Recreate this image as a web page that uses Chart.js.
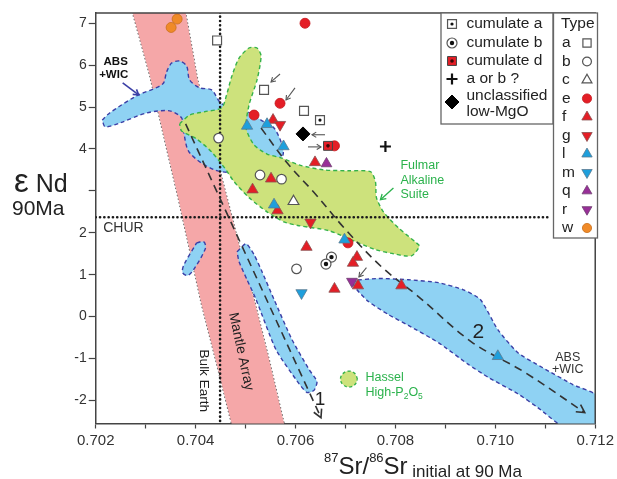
<!DOCTYPE html>
<html>
<head>
<meta charset="utf-8">
<script src="https://cdn.jsdelivr.net/npm/chart.js"></script>
<style>
  html, body { margin: 0; padding: 0; background: #fff; }
  #wrap { width: 617px; height: 479px; }
</style>
</head>
<body>
<div id="wrap"><canvas id="chart" width="617" height="479"></canvas></div>
<script>
// ---------- axes ----------
const xTickValues = [0.702, 0.703, 0.704, 0.705, 0.706, 0.707, 0.708, 0.709, 0.710, 0.711, 0.712];
const xTickLabels = ['0.702', '', '0.704', '', '0.706', '', '0.708', '', '0.710', '', '0.712'];
const yTickValues = [-2, -1, 0, 1, 2, 3, 4, 5, 6, 7];
const yTickLabels = ['-2', '-1', '0', '1', '2', '', '4', '5', '6', '7'];

// ---------- samples by type: [87Sr/86Sr(90 Ma), eNd(90 Ma)] ----------
const typeA = [[0.70443, 6.59], [0.70537, 5.41], [0.70617, 4.91]];
const typeB = [[0.70446, 4.26], [0.70529, 3.38], [0.70572, 3.28], [0.70602, 1.14]];
const typeC = [[0.70596, 2.75]];
const typeE = [[0.70619, 7.0], [0.70569, 5.09], [0.70517, 4.81], [0.70678, 4.075], [0.70705, 1.76]];
const typeF = [[0.70555, 4.69], [0.70639, 3.68], [0.70551, 3.29], [0.70514, 3.03], [0.70564, 2.53],
               [0.70622, 1.66], [0.70723, 1.42], [0.70715, 1.28], [0.70678, 0.66], [0.70725, 0.74], [0.70812, 0.74]];
const typeG = [[0.70569, 4.58], [0.70630, 2.25]];
const typeL = [[0.70503, 4.55], [0.70543, 4.59], [0.70576, 4.06], [0.70557, 2.67], [0.70698, 1.835], [0.71005, -0.946]];
const typeM = [[0.70612, 0.565]];
const typeQ = [[0.70662, 3.65]];
const typeR = [[0.70713, 0.84]];
const typeW = [[0.70351, 6.9], [0.70363, 7.1]];
const cumulateA = [[0.70649, 4.69]];
const cumulateB = [[0.70672, 1.42], [0.70661, 1.255]];
const cumulateD = [[0.70665, 4.075]];
const typeAorB = [[0.70780, 4.06]];
const lowMgO = [[0.70615, 4.36]];

// ---------- reference fields (outlines) ----------
const mantleArray = [[0.70265, 7.6], [0.70274, 7.25], [0.70308, 5.77], [0.70338, 4.22], [0.70366, 2.79], [0.70388, 1.60],
  [0.70412, 0.29], [0.70440, -1.02], [0.70472, -2.55], [0.70479, -2.9], [0.70584, -2.9], [0.70577, -2.55],
  [0.70547, -1.02], [0.70517, 0.41], [0.70497, 1.24], [0.70472, 2.41], [0.70438, 3.98], [0.70404, 5.65],
  [0.70380, 7.25], [0.70374, 7.6], [0.70265, 7.6]];
const absWicUpper = [[0.70213, 4.69], [0.70228, 4.86], [0.70282, 5.27], [0.70334, 5.55], [0.70342, 5.84], [0.70352, 6.05],
  [0.70368, 6.10], [0.70382, 5.98], [0.70388, 5.65], [0.70408, 5.46], [0.70432, 5.41], [0.70452, 5.08], [0.70497, 4.93],
  [0.70531, 4.69], [0.70557, 4.50], [0.70573, 4.10], [0.70575, 3.86], [0.70563, 3.74], [0.70487, 3.46], [0.70438, 3.50],
  [0.70388, 3.91], [0.70376, 4.41], [0.70372, 4.74], [0.70348, 4.91], [0.70302, 4.86], [0.70248, 4.62], [0.70219, 4.53],
  [0.70213, 4.69]];
const absWicSliver = [[0.70402, 1.76], [0.70416, 1.79], [0.70420, 1.64], [0.70396, 1.12], [0.70384, 0.98], [0.70374, 1.05],
  [0.70376, 1.22], [0.70402, 1.76]];
const absWicTrend1 = [[0.70483, 1.55], [0.70501, 1.74], [0.70517, 1.48], [0.70533, 1.07], [0.70557, 0.41], [0.70593, -0.55],
  [0.70627, -1.26], [0.70643, -1.55], [0.70637, -1.76], [0.70623, -1.81], [0.70607, -1.60], [0.70561, -0.79],
  [0.70521, 0.41], [0.70503, 0.88], [0.70487, 1.31], [0.70483, 1.55]];
const absWicTrend2 = [[0.70711, 0.86], [0.70766, 0.91], [0.70826, 0.88], [0.70886, 0.81], [0.70936, 0.64], [0.70970, 0.41],
  [0.71005, -0.31], [0.71045, -0.86], [0.71095, -1.22], [0.71155, -1.62], [0.71210, -1.93], [0.71210, -2.7],
  [0.71145, -2.7], [0.71085, -2.17], [0.71045, -1.84], [0.70986, -1.45], [0.70946, -1.14], [0.70886, -0.62],
  [0.70826, -0.21], [0.70786, 0.05], [0.70746, 0.36], [0.70723, 0.64], [0.70711, 0.86]];
const fulmarSuite = [[0.70368, 4.60], [0.70388, 4.81], [0.70418, 4.89], [0.70452, 4.98], [0.70462, 5.29], [0.70472, 5.72],
  [0.70487, 6.17], [0.70507, 6.41], [0.70523, 6.41], [0.70531, 6.22], [0.70523, 5.65], [0.70507, 5.05], [0.70501, 4.50],
  [0.70517, 4.10], [0.70543, 3.88], [0.70571, 3.79], [0.70607, 3.62], [0.70657, 3.50], [0.70707, 3.48], [0.70750, 3.46],
  [0.70760, 3.22], [0.70762, 2.84], [0.70776, 2.50], [0.70806, 2.12], [0.70842, 1.76], [0.70848, 1.68], [0.70832, 1.45],
  [0.70796, 1.50], [0.70760, 1.60], [0.70726, 1.76], [0.70667, 2.05], [0.70607, 2.17], [0.70577, 2.26], [0.70543, 2.50],
  [0.70507, 2.84], [0.70477, 3.22], [0.70458, 3.55], [0.70432, 3.93], [0.70402, 4.24], [0.70372, 4.43], [0.70368, 4.60]];
const hasselHighP = [[0.70724, -1.49], [0.70719, -1.36], [0.70707, -1.30], [0.70695, -1.36], [0.70690, -1.49],
  [0.70695, -1.62], [0.70707, -1.68], [0.70719, -1.62], [0.70724, -1.49]];

// ---------- reference lines and trends ----------
const bulkEarth = [[0.70449, -2.9], [0.70449, 7.6]];
const chur = [[0.7020, 2.37], [0.7111, 2.37]];
const trend1 = [[0.70380, 4.60], [0.70651, -2.41]];
const trend2 = [[0.70531, 4.50], [0.70583, 3.67], [0.70641, 2.91], [0.70697, 2.12], [0.70772, 1.19], [0.70846, 0.48],
  [0.70952, -0.60], [0.71059, -1.33], [0.71179, -2.29]];

// pointer arrows: [tailX, tailY, headX, headY]
const pointerArrows = [[0.70569, 5.79, 0.70551, 5.60], [0.70599, 5.46, 0.70581, 5.17], [0.70659, 4.34, 0.70633, 4.34],
  [0.70625, 4.05, 0.70651, 4.05], [0.70742, 1.17, 0.70727, 0.95]];
const fulmarArrow = [0.70796, 3.07, 0.70770, 2.79];
const absArrow = [0.70254, 5.58, 0.70286, 5.29];

// legend texts
const cumulateLabels = ['cumulate a', 'cumulate b', 'cumulate d', 'a or b ?', 'unclassified', 'low-MgO'];
const typeLetters = ['a', 'b', 'c', 'e', 'f', 'g', 'l', 'm', 'q', 'r', 'w'];

// ---------- styles ----------
const FONT = '"Liberation Sans", Arial, Helvetica, sans-serif';
const RED = '#e41e26', BLUE = '#1e9fdc', PURPLE = '#982f98', ORANGE = '#f08a28';
const PINK = '#f5a7a8', SKY = '#8fd2f3', LIME = '#cde27c';
const EDGE_BLUE = '#3b3fa6', EDGE_GREEN = '#35b24a', GREEN_TEXT = '#2bb24c';

const markStyles = {
  a: { ps: 'rect', r: 6.3, bg: '#fff', border: '#555', bw: 1.2 },
  b: { ps: 'circle', r: 4.8, bg: '#fff', border: '#555', bw: 1.2 },
  c: { ps: 'triangle', r: 6.2, bg: '#fff', border: '#555', bw: 1.2 },
  e: { ps: 'circle', r: 5, bg: RED, border: '#c4161c', bw: 0.8 },
  f: { ps: 'triangle', r: 6.5, bg: RED, border: '#8a5050', bw: 0.8 },
  g: { ps: 'triangle', r: 6.5, rot: 180, bg: RED, border: '#8a5050', bw: 0.8 },
  l: { ps: 'triangle', r: 6.5, bg: BLUE, border: '#5a7a90', bw: 0.8 },
  m: { ps: 'triangle', r: 6.5, rot: 180, bg: BLUE, border: '#5a7a90', bw: 0.8 },
  q: { ps: 'triangle', r: 6.2, bg: PURPLE, border: '#704070', bw: 0.8 },
  r: { ps: 'triangle', r: 6.2, rot: 180, bg: PURPLE, border: '#704070', bw: 0.8 },
  w: { ps: 'circle', r: 5, bg: ORANGE, border: '#c9701c', bw: 0.8 },
  cumA: { ps: 'rect', r: 6.3, bg: '#fff', border: '#555', bw: 1.2, dot: '#111', dotR: 1.6 },
  cumB: { ps: 'circle', r: 5, bg: '#fff', border: '#555', bw: 1.2, dot: '#111', dotR: 2.2 },
  cumD: { ps: 'rect', r: 6.3, bg: RED, border: '#444', bw: 1, dot: '#3a0808', dotR: 1.8 },
  aOrB: { ps: 'cross', r: 5.5, bg: '#111', border: '#111', bw: 2.2 },
  lowMgO: { ps: 'rectRot', r: 7, bg: '#000', border: '#000', bw: 1 }
};

const pts = arr => arr.map(([x, y]) => ({ x, y }));

function field(data, fill, edge, dash, order, tension) {
  return { data: pts(data), showLine: true, fill: 'shape', backgroundColor: fill, borderColor: edge,
           borderWidth: 1.4, borderDash: dash, pointRadius: 0, tension, order };
}
function guide(data, color, dash, width, order, tension, cap) {
  return { data: pts(data), showLine: true, fill: false, borderColor: color, borderWidth: width,
           borderDash: dash, borderCapStyle: cap || 'butt', pointRadius: 0, tension, order };
}
function marks(data, st, order) {
  const sets = [{ data: pts(data), showLine: false, pointStyle: st.ps, pointRadius: st.r, pointRotation: st.rot || 0,
           pointBackgroundColor: st.bg, pointBorderColor: st.border, pointBorderWidth: st.bw, order }];
  if (st.dot) {
    sets.push({ data: pts(data), showLine: false, pointStyle: 'circle', pointRadius: st.dotR,
                pointBackgroundColor: st.dot, pointBorderWidth: 0, order: order - 0.5 });
  }
  return sets;
}

const datasets = [
  guide(mantleArray, '#666', [0.1, 3.6], 1.8, 101, 0, 'round'),
  field(mantleArray, PINK, 'rgba(0,0,0,0)', [], 100, 0),
  field(absWicUpper, SKY, EDGE_BLUE, [4, 3], 90, 0.3),
  field(absWicSliver, SKY, EDGE_BLUE, [4, 3], 89, 0.3),
  field(absWicTrend1, SKY, EDGE_BLUE, [4, 3], 88, 0.2),
  field(absWicTrend2, SKY, EDGE_BLUE, [4, 3], 87, 0.2),
  field(fulmarSuite, LIME, EDGE_GREEN, [4, 3], 80, 0.25),
  field(hasselHighP, LIME, EDGE_GREEN, [3, 2.5], 79, 0.4),
  guide(bulkEarth, '#1a1a1a', [0.1, 4.2], 2.6, 70, 0, 'round'),
  guide(chur, '#1a1a1a', [0.1, 4.2], 2.6, 69, 0, 'round'),
  guide(trend1, '#333', [8, 5.5], 1.6, 60, 0),
  guide(trend2, '#333', [8, 5.5], 1.6, 59, 0.35),
  ...marks(typeW, markStyles.w, 40),
  ...marks(typeA, markStyles.a, 39),
  ...marks(typeB, markStyles.b, 38),
  ...marks(typeC, markStyles.c, 37),
  ...marks(typeE, markStyles.e, 36),
  ...marks(typeF, markStyles.f, 35),
  ...marks(typeG, markStyles.g, 34),
  ...marks(typeL, markStyles.l, 33),
  ...marks(typeM, markStyles.m, 32),
  ...marks(typeQ, markStyles.q, 31),
  ...marks(typeR, markStyles.r, 30),
  ...marks(cumulateA, markStyles.cumA, 28),
  ...marks(cumulateB, markStyles.cumB, 26),
  ...marks(cumulateD, markStyles.cumD, 24),
  ...marks(typeAorB, markStyles.aOrB, 22),
  ...marks(lowMgO, markStyles.lowMgO, 20)
];

// ---------- canvas helpers ----------
function drawSym(ctx, st, x, y) {
  const r = st.r;
  ctx.save();
  ctx.translate(x, y);
  ctx.rotate((st.rot || 0) * Math.PI / 180);
  ctx.beginPath();
  if (st.ps === 'circle') ctx.arc(0, 0, r, 0, 2 * Math.PI);
  else if (st.ps === 'rect') { const s = r * Math.SQRT1_2; ctx.rect(-s, -s, 2 * s, 2 * s); }
  else if (st.ps === 'rectRot') { ctx.moveTo(-r, 0); ctx.lineTo(0, -r); ctx.lineTo(r, 0); ctx.lineTo(0, r); ctx.closePath(); }
  else if (st.ps === 'triangle') {
    for (let k = 0; k < 3; k++) {
      const a = k * 2 * Math.PI / 3;
      const px = Math.sin(a) * r, py = -Math.cos(a) * r;
      if (k) ctx.lineTo(px, py); else ctx.moveTo(px, py);
    }
    ctx.closePath();
  } else if (st.ps === 'cross') { ctx.moveTo(0, -r); ctx.lineTo(0, r); ctx.moveTo(-r, 0); ctx.lineTo(r, 0); }
  ctx.fillStyle = st.bg; ctx.strokeStyle = st.border; ctx.lineWidth = st.bw;
  if (st.ps !== 'cross') ctx.fill();
  if (st.bw > 0) ctx.stroke();
  if (st.dot) { ctx.beginPath(); ctx.arc(0, 0, st.dotR, 0, 2 * Math.PI); ctx.fillStyle = st.dot; ctx.fill(); }
  ctx.restore();
}

function arrowHead(ctx, x0, y0, x1, y1, len, spread) {
  const ang = Math.atan2(y1 - y0, x1 - x0);
  ctx.beginPath();
  ctx.moveTo(x1 - len * Math.cos(ang - spread), y1 - len * Math.sin(ang - spread));
  ctx.lineTo(x1, y1);
  ctx.lineTo(x1 - len * Math.cos(ang + spread), y1 - len * Math.sin(ang + spread));
  ctx.stroke();
}

function text(ctx, s, x, y, size, color, align, weight) {
  ctx.font = (weight || 'normal') + ' ' + size + 'px ' + FONT;
  ctx.fillStyle = color;
  ctx.textAlign = align || 'left';
  ctx.textBaseline = 'middle';
  ctx.fillText(s, x, y);
}

// runs of text with raised / lowered parts, left to right
function runs(ctx, x, parts) {
  ctx.textAlign = 'left';
  ctx.textBaseline = 'alphabetic';
  for (const [s, size, base, color] of parts) {
    ctx.font = size + 'px ' + FONT;
    ctx.fillStyle = color;
    ctx.fillText(s, x, base);
    x += ctx.measureText(s).width;
  }
  return x;
}

const overlay = {
  id: 'overlay',
  afterDraw(chart) {
    const { ctx, chartArea: a, scales: { x, y } } = chart;
    const px = v => x.getPixelForValue(v), py = v => y.getPixelForValue(v);
    ctx.save();

    // frame: top and right sides
    ctx.strokeStyle = '#444'; ctx.lineWidth = 1.5;
    ctx.beginPath(); ctx.moveTo(a.left, a.top); ctx.lineTo(a.right, a.top); ctx.lineTo(a.right, a.bottom); ctx.stroke();

    // heads of the two trend arrows
    ctx.strokeStyle = '#333'; ctx.lineWidth = 1.6;
    for (const tr of [trend1, trend2]) {
      const p0 = tr[tr.length - 2], p1 = tr[tr.length - 1];
      arrowHead(ctx, px(p0[0]), py(p0[1]), px(p1[0]), py(p1[1]), 9, 0.5);
    }

    // small pointer arrows
    const drawArrow = (ar, color, width, len) => {
      ctx.strokeStyle = color; ctx.lineWidth = width;
      const x0 = px(ar[0]), y0 = py(ar[1]), x1 = px(ar[2]), y1 = py(ar[3]);
      ctx.beginPath(); ctx.moveTo(x0, y0); ctx.lineTo(x1, y1); ctx.stroke();
      arrowHead(ctx, x0, y0, x1, y1, len, 0.55);
    };
    pointerArrows.forEach(ar => drawArrow(ar, '#555', 1.1, 5));
    drawArrow(fulmarArrow, GREEN_TEXT, 1.3, 6);
    drawArrow(absArrow, '#3b3fa6', 1.6, 6);

    // field labels
    text(ctx, 'CHUR', px(0.70215), py(2.11), 14, '#333');
    text(ctx, 'ABS', px(0.70240), py(6.08), 11.5, '#111', 'center', 'bold');
    text(ctx, '+WIC', px(0.70236), py(5.77), 11.5, '#111', 'center', 'bold');
    text(ctx, 'ABS', px(0.71145), py(-0.98), 12.5, '#333', 'center');
    text(ctx, '+WIC', px(0.71145), py(-1.26), 12.5, '#333', 'center');
    text(ctx, 'Fulmar', px(0.70810), py(3.60), 12.5, GREEN_TEXT);
    text(ctx, 'Alkaline', px(0.70810), py(3.24), 12.5, GREEN_TEXT);
    text(ctx, 'Suite', px(0.70810), py(2.91), 12.5, GREEN_TEXT);
    text(ctx, 'Hassel', px(0.70740), py(-1.45), 12.5, GREEN_TEXT);
    runs(ctx, px(0.70740), [['High-P', 12.5, py(-1.79) + 4.5, GREEN_TEXT], ['2', 8.5, py(-1.79) + 7, GREEN_TEXT],
                            ['O', 12.5, py(-1.79) + 4.5, GREEN_TEXT], ['5', 8.5, py(-1.79) + 7, GREEN_TEXT]]);
    text(ctx, '1', px(0.70649), py(-1.98), 19, '#222', 'center');
    text(ctx, '2', px(0.70966), py(-0.38), 21, '#222', 'center');

    // rotated labels
    ctx.save();
    ctx.translate(px(0.70416), py(-1.53)); ctx.rotate(Math.PI / 2);
    text(ctx, 'Bulk Earth', 0, 0, 13.5, '#222', 'center');
    ctx.restore();
    ctx.save();
    ctx.translate(px(0.70491), py(-0.83)); ctx.rotate(78 * Math.PI / 180);
    text(ctx, 'Mantle Array', 0, 0, 14, '#222', 'center');
    ctx.restore();

    // legend: cumulate / other symbols
    ctx.fillStyle = '#fff'; ctx.strokeStyle = '#666'; ctx.lineWidth = 1.3;
    ctx.fillRect(441, 13, 112, 111); ctx.strokeRect(441, 13, 112, 111);
    const cumStyles = [markStyles.cumA, markStyles.cumB, markStyles.cumD, markStyles.aOrB];
    const cumRows = [24, 43, 61, 79];
    cumStyles.forEach((st, i) => drawSym(ctx, st, 452, cumRows[i]));
    drawSym(ctx, markStyles.lowMgO, 452, 102);
    const cumTextRows = [24, 43, 61, 79, 95.5, 112];
    cumulateLabels.forEach((s, i) => text(ctx, s, 466.5, cumTextRows[i], 15.5, '#222'));

    // legend: sample types
    ctx.fillStyle = '#fff'; ctx.strokeStyle = '#666'; ctx.lineWidth = 1.3;
    ctx.fillRect(553.5, 13, 44, 225); ctx.strokeRect(553.5, 13, 44, 225);
    text(ctx, 'Type', 561, 24, 15.5, '#222');
    typeLetters.forEach((k, i) => {
      const yy = 43 + 18.5 * i;
      text(ctx, k, 562, yy, 15.5, '#222');
      drawSym(ctx, Object.assign({}, markStyles[k], { r: markStyles[k].r * 0.92 }), 587, yy);
    });

    // axis titles
    runs(ctx, 324, [['87', 13, 462, '#222'], ['Sr/', 24, 474, '#222'], ['86', 13, 462, '#222'],
                    ['Sr', 24, 474, '#222'], [' initial at 90 Ma', 17, 477, '#222']]);
    runs(ctx, 14, [['ε', 33, 192, '#222'], [' Nd', 25, 192, '#222']]);
    runs(ctx, 12, [['90Ma', 21, 215, '#222']]);

    ctx.restore();
  }
};

new Chart(document.getElementById('chart'), {
  type: 'scatter',
  data: { datasets },
  options: {
    responsive: false,
    animation: false,
    devicePixelRatio: 1,
    events: [],
    layout: { padding: { top: 13, right: 19.3, bottom: 0, left: 0 } },
    plugins: { legend: { display: false }, tooltip: { enabled: false } },
    scales: {
      x: {
        type: 'linear', min: 0.702, max: 0.712,
        afterBuildTicks: s => { s.ticks = xTickValues.map(v => ({ value: v })); },
        afterFit: s => { s.height = 55.5; },
        ticks: { callback: (v, i) => xTickLabels[i], autoSkip: false, maxRotation: 0, padding: 3,
                 color: '#333', font: { family: FONT, size: 15 } },
        grid: { drawOnChartArea: false, tickLength: 5, color: '#444', tickWidth: 1.2 },
        border: { color: '#444', width: 1.5 }
      },
      y: {
        type: 'linear', min: -2.55, max: 7.245,
        afterBuildTicks: s => { s.ticks = yTickValues.map(v => ({ value: v })); },
        afterFit: s => { s.width = 95.7; },
        ticks: { callback: (v, i) => yTickLabels[i], autoSkip: false, padding: 2,
                 color: '#333', font: { family: FONT, size: 14 } },
        grid: { drawOnChartArea: false, tickLength: 7, color: '#444', tickWidth: 1.2 },
        border: { color: '#444', width: 1.5 }
      }
    }
  },
  plugins: [overlay]
});
</script>
</body>
</html>
